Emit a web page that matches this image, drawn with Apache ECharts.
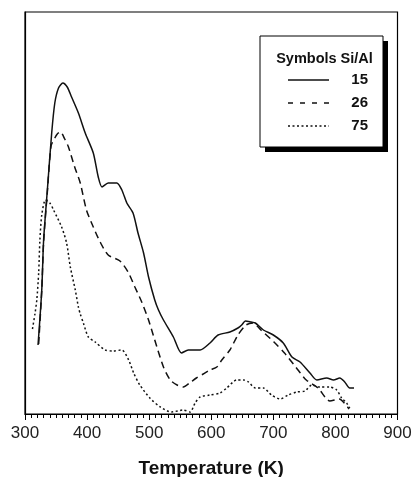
<!DOCTYPE html>
<html>
<head>
<meta charset="utf-8">
<script src="https://cdn.jsdelivr.net/npm/echarts@6/dist/echarts.min.js"></script>
<style>
  html, body { margin: 0; padding: 0; background: #fff; }
  #chart { width: 412px; height: 477px; }
</style>
</head>
<body>
<div id="chart"></div>
<script>
// Desorption signal vs temperature for three Si/Al ratios (arbitrary intensity units)
const seriesNames = ['15', '26', '75'];

const temp15 = [321, 327, 330, 336, 343, 348, 354, 361, 368, 375, 386, 397, 410, 418, 424, 434, 448, 456, 464, 474, 482, 491, 499, 509, 515, 523, 539, 552, 563, 582, 598, 611, 630, 643, 649, 655, 664, 671, 684, 700, 716, 730, 743, 759, 770, 786, 797, 807, 815, 823, 830];
const signal15 = [69, 124, 174, 224, 281, 311, 326, 331, 327, 317, 301, 281, 261, 237, 227, 231, 231, 224, 211, 201, 181, 161, 137, 114, 104, 94, 77, 61, 64, 64, 71, 79, 82, 86, 89, 93, 92, 91, 84, 79, 71, 57, 52, 41, 34, 36, 34, 36, 32, 26, 26];

const temp26 = [322, 327, 330, 336, 342, 348, 352, 357, 364, 370, 380, 389, 399, 410, 421, 434, 453, 466, 477, 488, 499, 509, 523, 534, 545, 555, 565, 576, 587, 598, 609, 617, 630, 643, 656, 667, 680, 701, 718, 736, 753, 772, 791, 806, 822];
const signal26 = [70, 124, 172, 222, 268, 276, 280, 282, 275, 267, 247, 231, 204, 187, 172, 159, 153, 142, 127, 112, 94, 74, 47, 34, 29, 27, 31, 36, 40, 44, 47, 54, 64, 79, 89, 91, 84, 72, 61, 47, 34, 26, 13, 15, 5];

const temp75 = [312, 316, 319, 322, 324, 327, 333, 340, 346, 359, 367, 373, 381, 386, 389, 394, 402, 413, 429, 442, 456, 467, 475, 485, 501, 518, 536, 555, 566, 574, 582, 598, 614, 625, 641, 652, 660, 671, 684, 697, 711, 724, 738, 751, 762, 775, 791, 802, 810, 818, 823];
const signal75 = [85, 100, 114, 141, 174, 199, 214, 211, 204, 187, 171, 147, 124, 107, 100, 91, 77, 72, 64, 63, 64, 54, 41, 29, 16, 7, 2, 4, 2, 11, 17, 19, 21, 26, 34, 34, 32, 26, 26, 19, 15, 19, 22, 23, 29, 27, 27, 24, 16, 11, 6];

const xTicks = [300, 400, 500, 600, 700, 800, 900];

const FONT = '"Liberation Sans", Arial, Helvetica, sans-serif';
const INK = '#111';

function pairs(xs, ys) { return xs.map((x, i) => [x, ys[i]]); }

const lineStyles = [
  { type: 'solid', width: 1.5 },
  { type: [7, 4.5], width: 1.5 },
  { type: [2, 2.5], width: 1.5 }
];
const dataSets = [pairs(temp15, signal15), pairs(temp26, signal26), pairs(temp75, signal75)];

// Legend panel: drop shadow, framed box, heading and line samples
const box = { x: 260, y: 36, w: 123, h: 111 };
const legendGraphics = [
  { type: 'rect', shape: { x: box.x + 5, y: box.y + 5, width: box.w, height: box.h }, style: { fill: '#000' }, z: 100 },
  { type: 'rect', shape: { x: box.x, y: box.y, width: box.w, height: box.h }, style: { fill: '#fff', stroke: '#000', lineWidth: 1 }, z: 101 },
  { type: 'text', x: box.x + box.w / 2 + 3, y: 59, style: { text: 'Symbols Si/Al', font: 'bold 14.5px ' + FONT, fill: INK, align: 'center', verticalAlign: 'middle' }, z: 102 }
];
const rowY = [80, 103, 126];
seriesNames.forEach((name, i) => {
  legendGraphics.push({
    type: 'line', shape: { x1: 288, y1: rowY[i], x2: 329, y2: rowY[i] },
    style: { stroke: INK, lineWidth: 1.5, lineDash: i === 0 ? null : (i === 1 ? [5, 7] : [2, 2.5]) }, z: 102
  });
  legendGraphics.push({
    type: 'text', x: 368, y: rowY[i],
    style: { text: name, font: 'bold 15px ' + FONT, fill: INK, align: 'right', verticalAlign: 'middle' }, z: 102
  });
});

const chart = echarts.init(document.getElementById('chart'), null, { renderer: 'canvas' });
chart.setOption({
  animation: false,
  backgroundColor: '#fff',
  grid: {
    left: 25, right: 14.5, top: 12, bottom: 63,
    outerBoundsMode: 'none', containLabel: false,
    show: true, borderColor: '#000', borderWidth: 1.2, backgroundColor: 'transparent'
  },
  xAxis: {
    type: 'value', min: xTicks[0], max: xTicks[xTicks.length - 1], interval: 100,
    name: 'Temperature (K)', nameLocation: 'middle', nameGap: 45,
    nameTextStyle: { fontFamily: FONT, fontWeight: 'bold', fontSize: 19, color: INK },
    axisLine: { show: true, lineStyle: { color: '#000', width: 1.2 } },
    axisTick: { show: true, inside: false, length: 6, lineStyle: { color: '#000' } },
    minorTick: { show: true, splitNumber: 10, length: 4, lineStyle: { color: '#000' } },
    axisLabel: { margin: 11, fontFamily: FONT, fontSize: 17, color: '#222' },
    splitLine: { show: false }
  },
  yAxis: {
    type: 'value', min: 0, max: 402,
    axisLine: { show: true, lineStyle: { color: '#000', width: 1.2 } },
    axisTick: { show: false },
    axisLabel: { show: false },
    splitLine: { show: false }
  },
  series: seriesNames.map((name, i) => ({
    name: name,
    type: 'line',
    data: dataSets[i],
    showSymbol: false,
    symbol: 'none',
    smooth: 0.25,
    lineStyle: Object.assign({ color: INK }, lineStyles[i])
  })),
  graphic: legendGraphics
});
</script>
</body>
</html>
